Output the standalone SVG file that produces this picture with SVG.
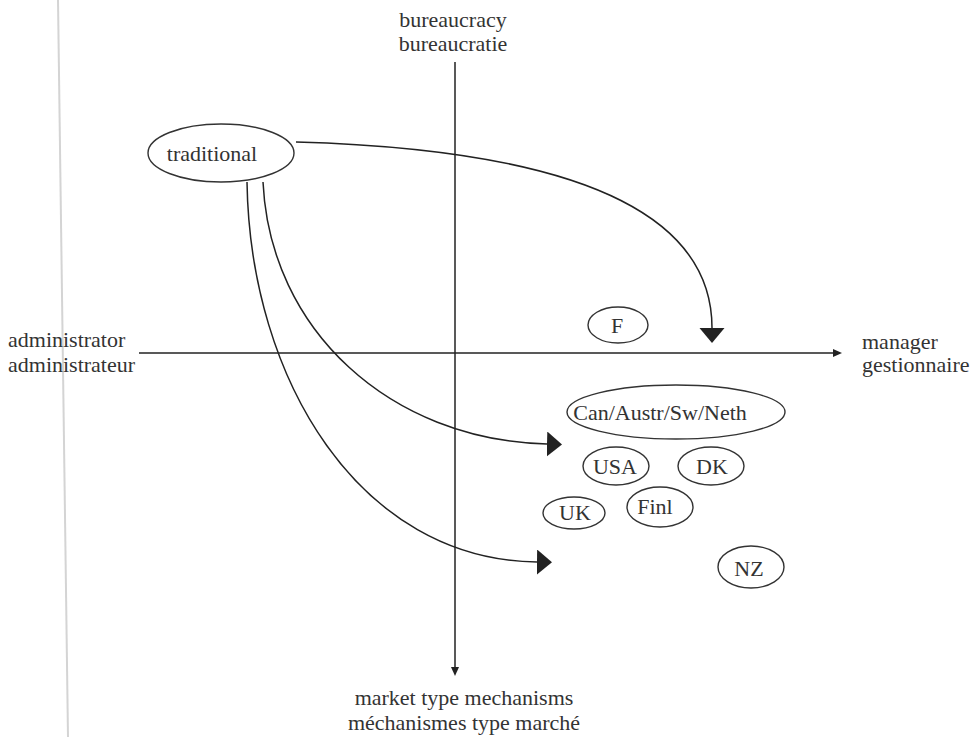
<svg xmlns="http://www.w3.org/2000/svg" width="980" height="737" viewBox="0 0 980 737">
<style>
  text { font-family: "Liberation Serif", "Times New Roman", serif; font-size: 22px; fill: #333; }
  .mid { text-anchor: middle; }
  .node ellipse { fill: none; stroke: #333; stroke-width: 1.4; }
  .axis { fill: none; stroke: #222; stroke-width: 1.5; }
  .conn path { fill: none; stroke: #222; stroke-width: 1.5; }
</style>
<defs>
  <marker id="bigArrow" markerUnits="userSpaceOnUse" markerWidth="16" markerHeight="26" refX="0" refY="12.5" orient="auto" viewBox="0 0 16 26">
    <path d="M0,0 L15,12.5 L0,25 Z" fill="#222"/>
  </marker>
  <marker id="axArrow" markerUnits="userSpaceOnUse" markerWidth="10" markerHeight="8" refX="0" refY="4" orient="auto" viewBox="0 0 10 8">
    <path d="M0,0 L9,4 L0,8 Z" fill="#222"/>
  </marker>
</defs>
<rect width="980" height="737" fill="#fff"/>
<line x1="58" y1="0" x2="68" y2="737" stroke="#d4d4d4" stroke-width="2"/>

<g id="axes">
  <line class="axis" x1="455" y1="62" x2="455" y2="667" marker-end="url(#axArrow)"/>
  <line class="axis" x1="139" y1="353" x2="833" y2="353" marker-end="url(#axArrow)"/>
</g>

<g id="axis-labels">
  <text class="mid" x="453" y="27">bureaucracy</text>
  <text class="mid" x="453" y="51">bureaucratie</text>
  <text x="8" y="347">administrator</text>
  <text x="8" y="372">administrateur</text>
  <text x="862" y="349">manager</text>
  <text x="862" y="372">gestionnaire</text>
  <text class="mid" x="464" y="705">market type mechanisms</text>
  <text class="mid" x="464" y="730">méchanismes type marché</text>
</g>

<g id="connectors" class="conn">
  <path d="M296,142 C580,150 712,215 712,328" marker-end="url(#bigArrow)"/>
  <path d="M263,182 C270,330 390,440 547,444" marker-end="url(#bigArrow)"/>
  <path d="M247,182 C250,380 360,560 537,562" marker-end="url(#bigArrow)"/>
</g>

<g id="node-traditional" class="node">
  <ellipse cx="221" cy="153" rx="73" ry="29"/>
  <text class="mid" x="212" y="161">traditional</text>
</g>
<g id="node-F" class="node">
  <ellipse cx="618" cy="325" rx="30" ry="18"/>
  <text class="mid" x="617" y="333">F</text>
</g>
<g id="node-CanAustrSwNeth" class="node">
  <ellipse cx="676" cy="412" rx="109" ry="27"/>
  <text class="mid" x="660" y="420">Can/Austr/Sw/Neth</text>
</g>
<g id="node-USA" class="node">
  <ellipse cx="616" cy="466" rx="33" ry="19"/>
  <text class="mid" x="615" y="474">USA</text>
</g>
<g id="node-DK" class="node">
  <ellipse cx="711" cy="466" rx="33" ry="19"/>
  <text class="mid" x="712" y="474">DK</text>
</g>
<g id="node-UK" class="node">
  <ellipse cx="574" cy="513" rx="31" ry="16"/>
  <text class="mid" x="575" y="520">UK</text>
</g>
<g id="node-Finl" class="node">
  <ellipse cx="660" cy="507" rx="33" ry="20"/>
  <text class="mid" x="655" y="514">Finl</text>
</g>
<g id="node-NZ" class="node">
  <ellipse cx="751" cy="567" rx="33" ry="21"/>
  <text class="mid" x="749" y="576">NZ</text>
</g>
</svg>
